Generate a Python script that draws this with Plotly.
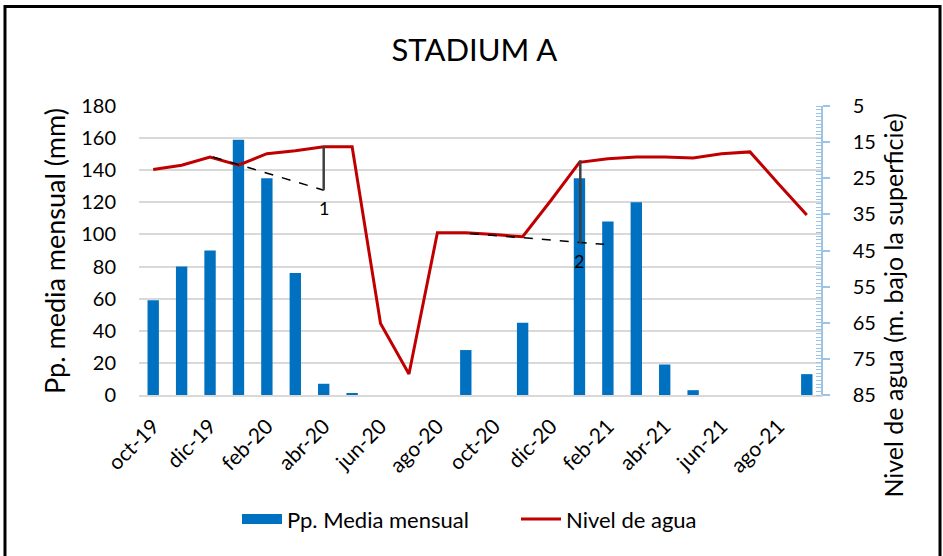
import plotly.graph_objects as go

months = ["oct-19", "nov-19", "dic-19", "ene-20", "feb-20", "mar-20", "abr-20", "may-20",
          "jun-20", "jul-20", "ago-20", "sep-20", "oct-20", "nov-20", "dic-20", "ene-21",
          "feb-21", "mar-21", "abr-21", "may-21", "jun-21", "jul-21", "ago-21", "sep-21"]
tick_labels = months[::2]
precip = [59, 80, 90, 159, 135, 76, 7, 1, 0, 0, 0, 28, 0, 45, 0, 135, 108, 120, 19, 3, 0, 0, 0, 13]
nivel = [22.6, 21.4, 19.1, 21.4, 18.2, 17.4, 16.3, 16.3, 65.2, 79.2, 40.1, 40.1, 40.6, 41.2,
         31.1, 20.6, 19.6, 19.1, 19.1, 19.4, 18.2, 17.7, 26.5, 35.2]

FONT = "Lato"
BLUE = "#0070C0"
RED = "#C00000"

fig = go.Figure()
fig.add_trace(go.Bar(x=months, y=precip, name="Pp. Media mensual", showlegend=False,
                     marker=dict(color=BLUE, line=dict(width=0))))
# legend entry for the bars (wide rectangle symbol as in the original)
fig.add_trace(go.Scatter(x=[None], y=[None], name="Pp. Media mensual", mode="lines",
                         line=dict(color=BLUE, width=15)))
fig.add_trace(go.Scatter(x=months, y=nivel, name="Nivel de agua", yaxis="y2",
                         mode="lines", line=dict(color=RED, width=3)))

shapes = [
    dict(type="rect", xref="paper", yref="paper", x0=-0.1965, x1=1.1745, y0=-0.62, y1=1.3446,
         line=dict(color="black", width=3), fillcolor="rgba(0,0,0,0)", layer="above"),
    dict(type="line", xref="x", yref="y2", x0=2.1, y0=19.1, x1=6.0, y1=28.3,
         line=dict(color="black", width=1.5, dash="dash")),
    dict(type="line", xref="x", yref="y2", x0=6.0, y0=16.1, x1=6.0, y1=28.3,
         line=dict(color="#404040", width=2.5)),
    dict(type="line", xref="x", yref="y2", x0=11.15, y0=40.3, x1=15.87, y1=43.3,
         line=dict(color="black", width=1.5, dash="dash")),
    dict(type="line", xref="x", yref="y2", x0=15.03, y0=20.0, x1=15.03, y1=43.2,
         line=dict(color="#404040", width=2.5)),
]

annotations = [
    dict(text="1", x=6.0, y=33.3, xref="x", yref="y2", showarrow=False,
         font=dict(family=FONT, size=18, color="black")),
    dict(text="2", x=15.0, y=47.9, xref="x", yref="y2", showarrow=False,
         font=dict(family=FONT, size=18, color="black")),
    dict(text="Pp. media mensual (mm)", x=-0.124, y=0.5, xref="paper", yref="paper",
         xanchor="center", yanchor="middle",
         textangle=-90, showarrow=False, font=dict(family=FONT, size=27, color="black")),
    dict(text="Nivel de agua (m. bajo la superficie)", x=1.105, y=0.308, xref="paper",
         yref="paper", xanchor="center", yanchor="middle", textangle=-90, showarrow=False,
         font=dict(family=FONT, size=25, color="black")),
]

fig.update_layout(
    template="none",
    width=943, height=556, autosize=False,
    paper_bgcolor="white", plot_bgcolor="white",
    margin=dict(l=139, r=122, t=106, b=161),
    title=dict(text="STADIUM A", x=0.503, xanchor="center", y=0.91, yanchor="middle",
               font=dict(family=FONT, size=31, color="black")),
    font=dict(family=FONT, color="black"),
    bargap=0.6,
    xaxis=dict(type="category", tickvals=tick_labels, ticktext=tick_labels, tickangle=-45,
               tickfont=dict(family=FONT, size=21, color="black"), showgrid=False,
               showline=True, linecolor="#d9d9d9", linewidth=1.5, ticks="",
               ticklabelstandoff=9, automargin=False),
    yaxis=dict(range=[0, 180], dtick=20, tick0=0, showgrid=True, gridcolor="#d9d9d9",
               gridwidth=1.5, zeroline=False, showline=False, ticks="",
               ticklabelstandoff=22,
               tickfont=dict(family=FONT, size=20, color="black"), automargin=False),
    yaxis2=dict(overlaying="y", side="right", range=[85, 5], tick0=5, dtick=10,
                showgrid=False, zeroline=False, showline=True, linecolor="#9DC3E6",
                linewidth=1.5, ticks="outside", ticklen=7, tickcolor="#9DC3E6", tickwidth=1.5,
                minor=dict(ticks="inside", dtick=1, ticklen=5, tickcolor="#9DC3E6", tickwidth=1),
                ticklabelstandoff=19,
                tickfont=dict(family=FONT, size=20, color="black"), automargin=False),
    showlegend=True,
    legend=dict(orientation="h", x=0.1437, xanchor="left", y=-0.43, yanchor="middle",
                font=dict(family=FONT, size=22, color="black"), bgcolor="rgba(0,0,0,0)",
                itemwidth=40, entrywidth=224),
    shapes=shapes,
    annotations=annotations,
)

fig.write_html("out.html", config={"displayModeBar": False},
               post_script="document.body.style.margin='0px';")
